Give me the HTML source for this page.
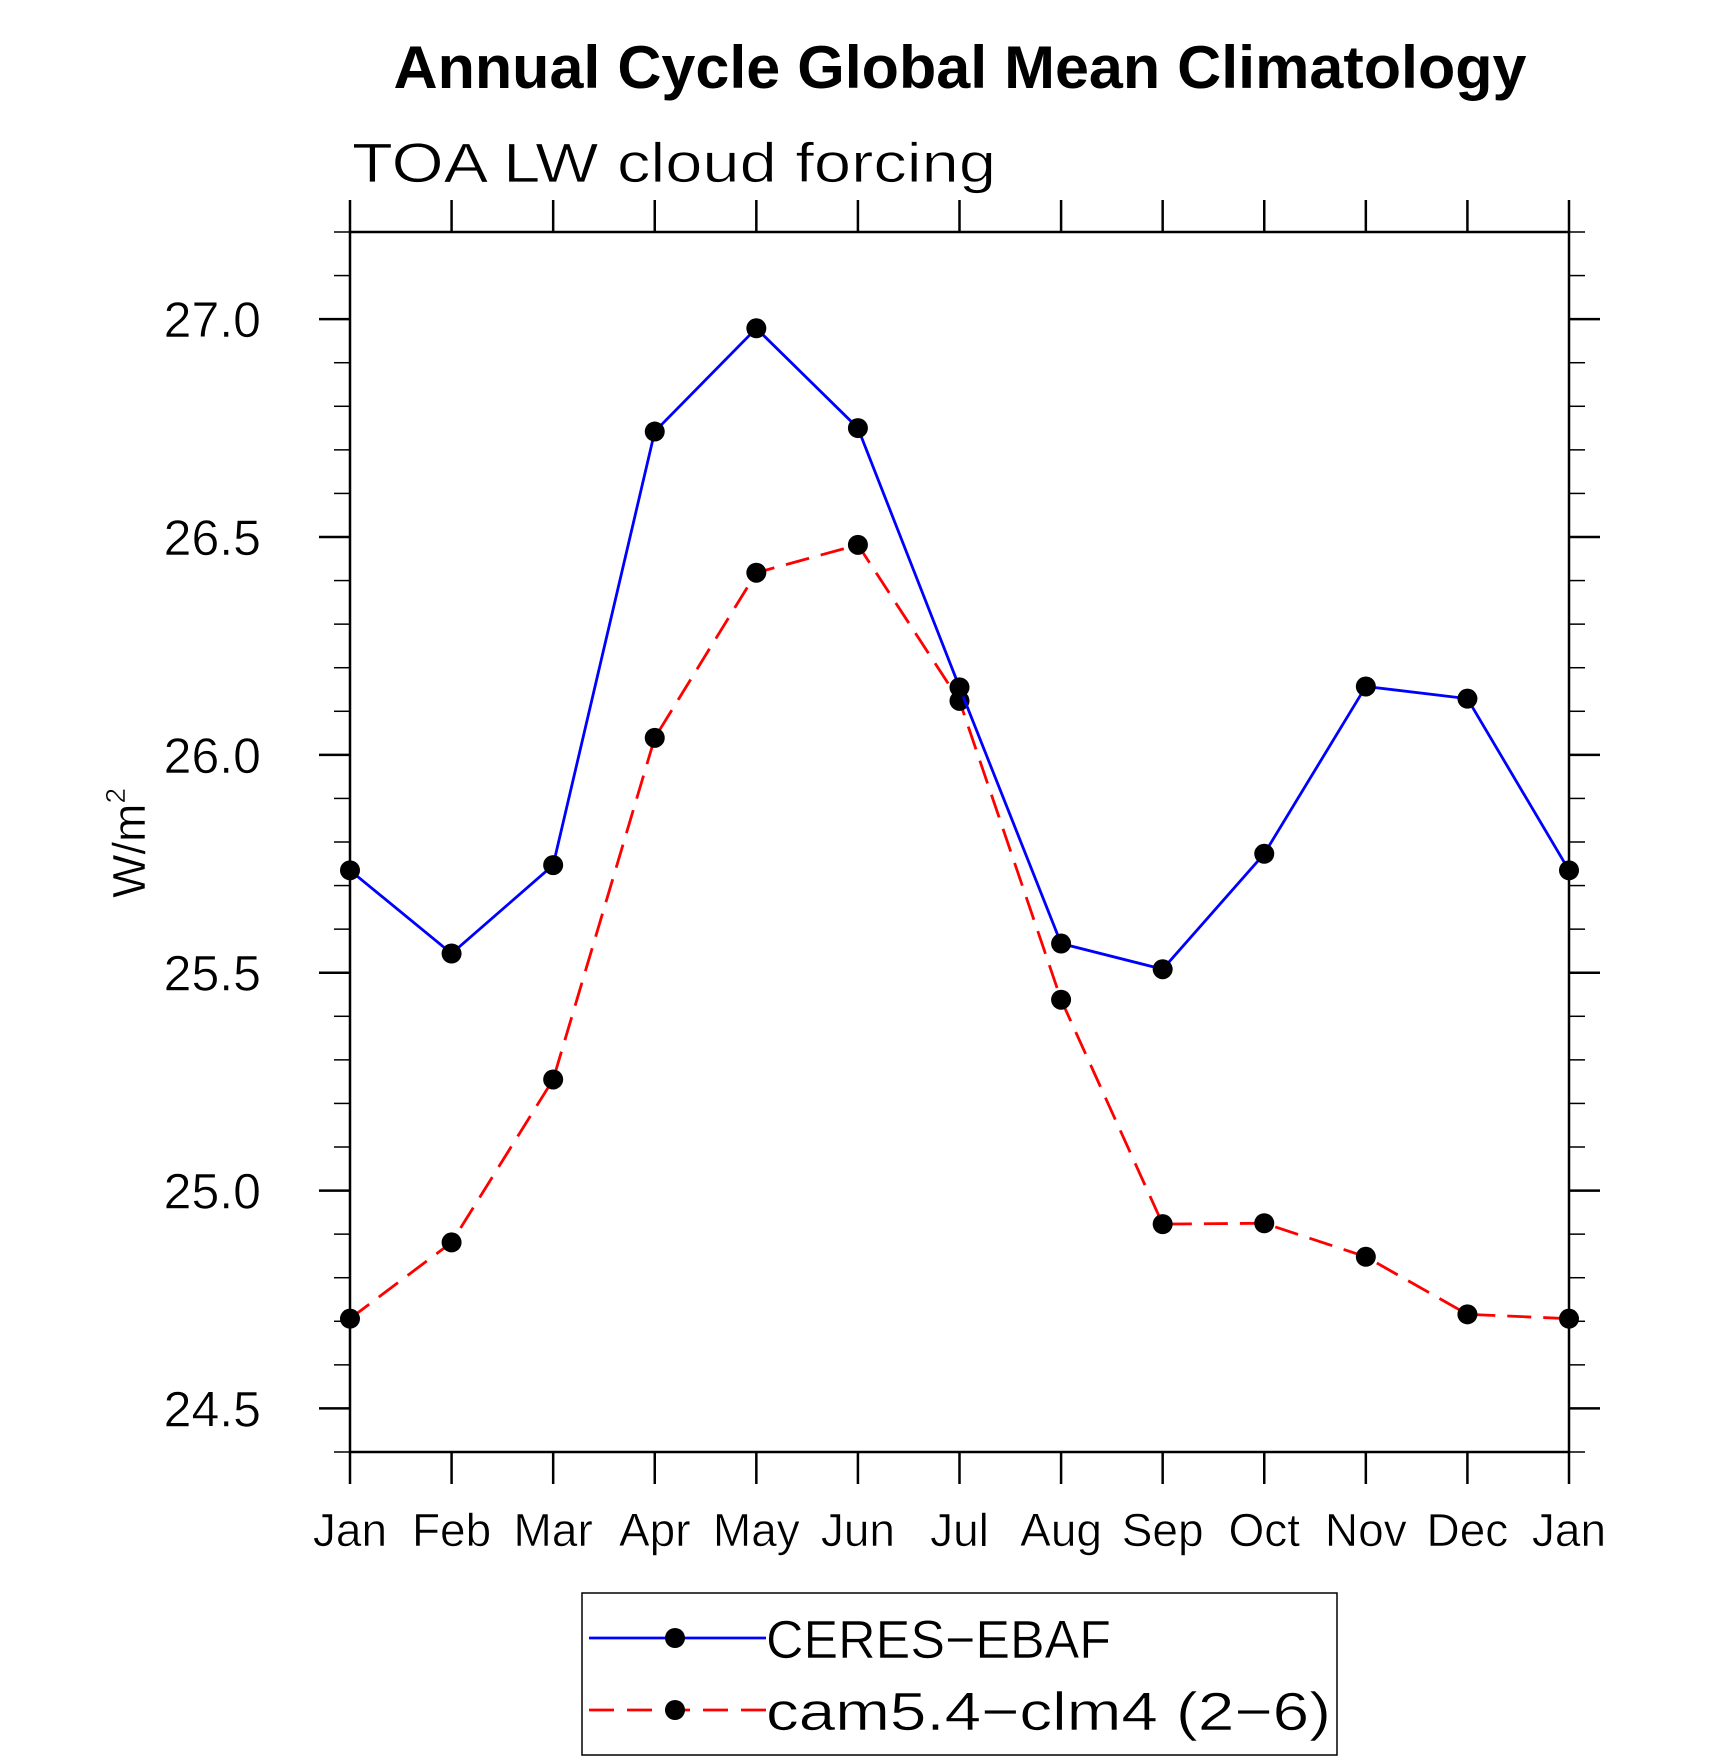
<!DOCTYPE html>
<html><head><meta charset="utf-8"><style>
html,body{margin:0;padding:0;background:#fff;}
svg{display:block;font-family:"Liberation Sans",sans-serif;}
</style></head><body>
<svg id="chart" width="1710" height="1762" viewBox="0 0 1710 1762" xmlns="http://www.w3.org/2000/svg">
<rect width="1710" height="1762" fill="#fff"/>
<text x="960" y="88" text-anchor="middle" font-size="60" font-weight="bold" textLength="1133" lengthAdjust="spacingAndGlyphs">Annual Cycle Global Mean Climatology</text>
<text x="352" y="182" font-size="56" textLength="644" lengthAdjust="spacingAndGlyphs" fill="#000" stroke="#fff" stroke-width="0.8">TOA LW cloud forcing</text>
<g id="axes"></g>
<g id="series"></g>
<text transform="translate(145,843) rotate(-90)" text-anchor="middle" font-size="46" stroke="#fff" stroke-width="0.5">W/m<tspan dy="-20" font-size="28">2</tspan></text>
<g>
<rect x="582" y="1593" width="755" height="162" fill="none" stroke="#000" stroke-width="1.5"/>
<line x1="589" y1="1638" x2="766" y2="1638" stroke="#0000ff" stroke-width="2.8"/>
<circle cx="675" cy="1638" r="10" fill="#000"/>
<text x="766" y="1658" font-size="54" textLength="345" lengthAdjust="spacingAndGlyphs" stroke="#fff" stroke-width="0.6">CERES−EBAF</text>
<line x1="589" y1="1710" x2="766" y2="1710" stroke="#ff0000" stroke-width="2.8" stroke-dasharray="25,13"/>
<circle cx="675" cy="1710" r="10" fill="#000"/>
<text x="766" y="1730" font-size="54" textLength="565" lengthAdjust="spacingAndGlyphs" stroke="#fff" stroke-width="0.6">cam5.4−clm4 (2−6)</text>
</g>
</svg>
<script>
const months = ["Jan","Feb","Mar","Apr","May","Jun","Jul","Aug","Sep","Oct","Nov","Dec","Jan"];
const ceres = [25.735,25.544,25.747,26.742,26.979,26.750,26.155,25.567,25.508,25.773,26.157,26.129,25.735];
const cam = [24.706,24.881,25.255,26.039,26.418,26.482,26.124,25.438,24.923,24.925,24.848,24.716,24.706];
const yTicks = [24.5,25.0,25.5,26.0,26.5,27.0];
const yTickLabels = ["24.5","25.0","25.5","26.0","26.5","27.0"];

const NS="http://www.w3.org/2000/svg";
const X0=350,X1=1569,Y0=232,Y1=1452,YMIN=24.4,YMAX=27.2;
const xs=i=>X0+(X1-X0)*i/(months.length-1);
const ys=v=>Y1-(v-YMIN)/(YMAX-YMIN)*(Y1-Y0);
function mk(tag,attrs,parent){const e=document.createElementNS(NS,tag);for(const k in attrs)e.setAttribute(k,attrs[k]);parent.appendChild(e);return e;}
const axes=document.getElementById('axes');
const frame=mk('rect',{x:X0,y:Y0,width:X1-X0,height:Y1-Y0,fill:'none',stroke:'#000','stroke-width':2.5},axes);


for(let k=0;k<=28;k++){const v=YMIN+k*0.1;const y=ys(v);const major=yTicks.some(t=>Math.abs(t-v)<1e-6);
 const L=major?31:16;const w=major?2.5:1.5;
 mk('line',{x1:X0-L,y1:y,x2:X0,y2:y,stroke:'#000','stroke-width':w},axes);
 mk('line',{x1:X1,y1:y,x2:X1+L,y2:y,stroke:'#000','stroke-width':w},axes);}
yTicks.forEach((t,i)=>{const tx=mk('text',{x:261,y:ys(t)+18,'text-anchor':'end','font-size':50,stroke:'#fff','stroke-width':0.6},axes);
 tx.textContent=yTickLabels[i];
 
 });
months.forEach((m,i)=>{const x=xs(i);
 mk('line',{x1:x,y1:Y1,x2:x,y2:Y1+32,stroke:'#000','stroke-width':2.5},axes);
 mk('line',{x1:x,y1:Y0-32,x2:x,y2:Y0,stroke:'#000','stroke-width':2.5},axes);
 const tx=mk('text',{x:x,y:1546,'text-anchor':'middle','font-size':46,stroke:'#fff','stroke-width':0.6},axes);
 tx.textContent=m;
 
 });
const ser=document.getElementById('series');
function draw(vals,color,dash,name){
 const pl=mk('polyline',{points:vals.map((v,i)=>xs(i)+','+ys(v)).join(' '),fill:'none',stroke:color,'stroke-width':2.8},ser);
 if(dash)pl.setAttribute('stroke-dasharray',dash);
 
 
 vals.forEach((v,i)=>{const c=mk('circle',{cx:xs(i),cy:ys(v),r:10,fill:'#000'},ser);
  
  });
}
draw(cam,'#ff0000','24,12','cam-series');
draw(ceres,'#0000ff',null,'ceres-series');
</script>
</body></html>
